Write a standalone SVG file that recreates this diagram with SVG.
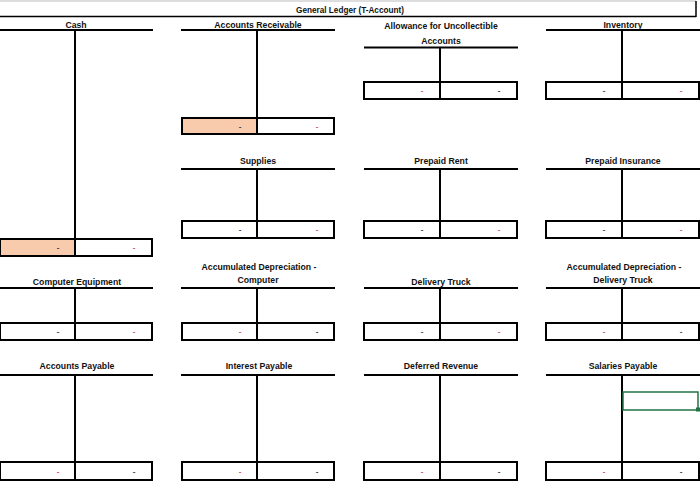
<svg xmlns="http://www.w3.org/2000/svg" width="700" height="483" viewBox="0 0 700 483">
<style>
.ln{stroke:#000;stroke-width:2;fill:none}
.bx{stroke:#000;stroke-width:2;fill:none}
.pe{fill:#F8CBAD}
.h{font-family:"Liberation Sans",Arial,sans-serif;font-weight:bold;font-size:8.7px;fill:#111;text-anchor:middle}
.d{font-family:"Liberation Sans",Arial,sans-serif;font-weight:bold;font-size:8px;text-anchor:middle}
.k{fill:#333}
.r{fill:#D04A5A}
</style>
<rect width="700" height="483" fill="#fff"/>
<g id="title">
<line x1="0" y1="1" x2="696" y2="1" stroke="#bbb" stroke-width="1"/>
<line x1="0" y1="16.5" x2="696" y2="16.5" stroke="#000" stroke-width="1.5"/>
<line x1="696" y1="1" x2="696" y2="17" stroke="#000" stroke-width="1.5"/>
<text class="h" x="350" y="13" style="font-size:8.2px">General Ledger (T-Account)</text>
</g>
<g id="cash">
<text class="h" x="76" y="27.5">Cash</text>
<rect class="pe" x="0" y="239" width="75" height="17"/>
<line class="ln" x1="0" y1="30" x2="153" y2="30"/>
<line class="ln" x1="75" y1="30" x2="75" y2="256"/>
<rect class="bx" x="0" y="239" width="152" height="17"/>
<text class="d k" x="58" y="250">-</text><text class="d r" x="134" y="250">-</text>
</g>
<g id="accounts-receivable">
<text class="h" x="258" y="27.5">Accounts Receivable</text>
<rect class="pe" x="182" y="118" width="75" height="16"/>
<line class="ln" x1="181" y1="30" x2="335" y2="30"/>
<line class="ln" x1="257" y1="30" x2="257" y2="134"/>
<rect class="bx" x="182" y="118" width="152" height="16"/>
<text class="d k" x="240" y="129">-</text><text class="d r" x="317" y="129">-</text>
</g>
<g id="allowance">
<text class="h" x="441" y="29">Allowance for Uncollectible</text>
<text class="h" x="441" y="43.5">Accounts</text>
<line class="ln" x1="364" y1="47.5" x2="518" y2="47.5"/>
<line class="ln" x1="440" y1="47.5" x2="440" y2="99"/>
<rect class="bx" x="364" y="82" width="153" height="17"/>
<text class="d r" x="422" y="93">-</text><text class="d k" x="499" y="93">-</text>
</g>
<g id="inventory">
<text class="h" x="623" y="27.5">Inventory</text>
<line class="ln" x1="546" y1="30" x2="700" y2="30"/>
<line class="ln" x1="622" y1="30" x2="622" y2="99"/>
<rect class="bx" x="546" y="82" width="153" height="17"/>
<text class="d k" x="604" y="93">-</text><text class="d r" x="681" y="93">-</text>
</g>
<g id="supplies">
<text class="h" x="258" y="164">Supplies</text>
<line class="ln" x1="181" y1="169" x2="335" y2="169"/>
<line class="ln" x1="257" y1="169" x2="257" y2="238"/>
<rect class="bx" x="182" y="221" width="152" height="17"/>
<text class="d k" x="240" y="232">-</text><text class="d r" x="317" y="232">-</text>
</g>
<g id="prepaid-rent">
<text class="h" x="441" y="164">Prepaid Rent</text>
<line class="ln" x1="364" y1="169" x2="518" y2="169"/>
<line class="ln" x1="440" y1="169" x2="440" y2="238"/>
<rect class="bx" x="364" y="221" width="153" height="17"/>
<text class="d k" x="422" y="232">-</text><text class="d r" x="499" y="232">-</text>
</g>
<g id="prepaid-insurance">
<text class="h" x="623" y="164">Prepaid Insurance</text>
<line class="ln" x1="546" y1="169" x2="700" y2="169"/>
<line class="ln" x1="622" y1="169" x2="622" y2="238"/>
<rect class="bx" x="546" y="221" width="153" height="17"/>
<text class="d k" x="604" y="232">-</text><text class="d r" x="681" y="232">-</text>
</g>
<g id="computer-equipment">
<text class="h" x="77" y="284.5">Computer Equipment</text>
<line class="ln" x1="0" y1="288" x2="153" y2="288"/>
<line class="ln" x1="75" y1="288" x2="75" y2="340"/>
<rect class="bx" x="0" y="323" width="152" height="17"/>
<text class="d k" x="58" y="334">-</text><text class="d r" x="134" y="334">-</text>
</g>
<g id="accum-dep-computer">
<text class="h" x="259" y="269.5">Accumulated Depreciation -</text>
<text class="h" x="258" y="283">Computer</text>
<line class="ln" x1="181" y1="288" x2="335" y2="288"/>
<line class="ln" x1="257" y1="288" x2="257" y2="340"/>
<rect class="bx" x="182" y="323" width="152" height="17"/>
<text class="d r" x="240" y="334">-</text><text class="d k" x="317" y="334">-</text>
</g>
<g id="delivery-truck">
<text class="h" x="441" y="284.5">Delivery Truck</text>
<line class="ln" x1="364" y1="288" x2="518" y2="288"/>
<line class="ln" x1="440" y1="288" x2="440" y2="340"/>
<rect class="bx" x="364" y="323" width="153" height="17"/>
<text class="d k" x="422" y="334">-</text><text class="d r" x="499" y="334">-</text>
</g>
<g id="accum-dep-truck">
<text class="h" x="624" y="269.5">Accumulated Depreciation -</text>
<text class="h" x="623" y="283">Delivery Truck</text>
<line class="ln" x1="546" y1="288" x2="700" y2="288"/>
<line class="ln" x1="622" y1="288" x2="622" y2="340"/>
<rect class="bx" x="546" y="323" width="153" height="17"/>
<text class="d r" x="604" y="334">-</text><text class="d k" x="681" y="334">-</text>
</g>
<g id="accounts-payable">
<text class="h" x="77" y="369">Accounts Payable</text>
<line class="ln" x1="0" y1="375" x2="153" y2="375"/>
<line class="ln" x1="75" y1="375" x2="75" y2="480"/>
<rect class="bx" x="0" y="462" width="152" height="18"/>
<text class="d r" x="58" y="473.5">-</text><text class="d k" x="134" y="473.5">-</text>
</g>
<g id="interest-payable">
<text class="h" x="259" y="369">Interest Payable</text>
<line class="ln" x1="181" y1="375" x2="335" y2="375"/>
<line class="ln" x1="257" y1="375" x2="257" y2="480"/>
<rect class="bx" x="182" y="462" width="152" height="18"/>
<text class="d r" x="240" y="473.5">-</text><text class="d k" x="317" y="473.5">-</text>
</g>
<g id="deferred-revenue">
<text class="h" x="441" y="369">Deferred Revenue</text>
<line class="ln" x1="364" y1="375" x2="518" y2="375"/>
<line class="ln" x1="440" y1="375" x2="440" y2="480"/>
<rect class="bx" x="364" y="462" width="153" height="18"/>
<text class="d r" x="422" y="473.5">-</text><text class="d k" x="499" y="473.5">-</text>
</g>
<g id="salaries-payable">
<text class="h" x="623" y="369">Salaries Payable</text>
<line class="ln" x1="546" y1="375" x2="700" y2="375"/>
<line class="ln" x1="622" y1="375" x2="622" y2="480"/>
<rect class="bx" x="546" y="462" width="153" height="18"/>
<text class="d r" x="604" y="473.5">-</text><text class="d k" x="681" y="473.5">-</text>
<rect x="623" y="392" width="75" height="18" fill="none" stroke="#217346" stroke-width="1.5"/>
<rect x="696" y="407.5" width="4" height="4" fill="#217346"/>
</g>
<g id="connectors"></g>
</svg>
